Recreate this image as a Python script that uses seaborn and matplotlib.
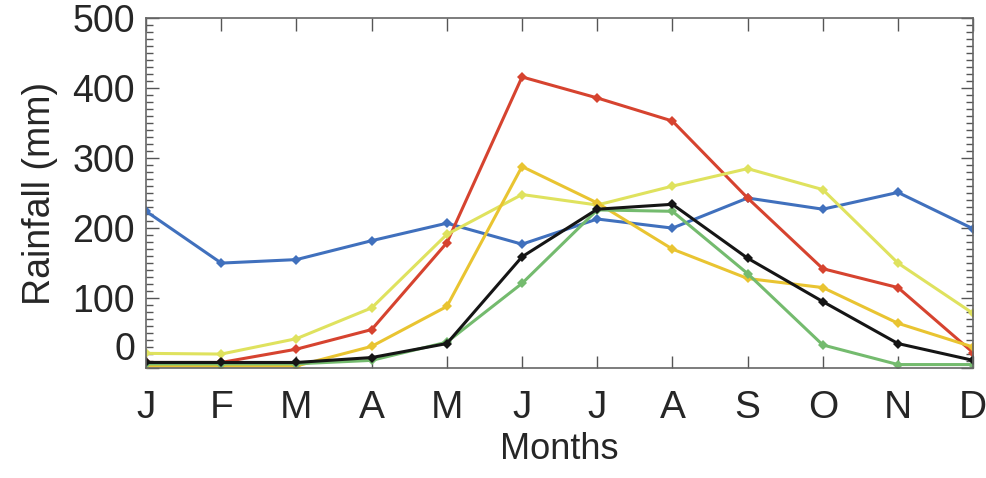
import matplotlib
matplotlib.use("Agg")
import matplotlib.pyplot as plt
from matplotlib.ticker import MultipleLocator
import pandas as pd
import seaborn as sns

months = ["J", "F", "M", "A", "M", "J", "J", "A", "S", "O", "N", "D"]
y_ticks = [0, 100, 200, 300, 400, 500]

blue = [224, 150, 155, 182, 207, 177, 213, 200, 243, 227, 251, 199]
red = [8, 8, 27, 55, 179, 416, 386, 353, 243, 142, 115, 22]
light_yellow = [21, 20, 42, 86, 191, 248, 233, 260, 285, 255, 150, 78]
gold = [3, 3, 3, 31, 88, 288, 236, 170, 128, 115, 64, 30]
green = [6, 6, 6, 11, 37, 121, 226, 224, 135, 33, 5, 5]
black = [8, 8, 8, 15, 35, 159, 227, 234, 157, 95, 35, 11]

series = {
    "blue": blue,
    "red": red,
    "light_yellow": light_yellow,
    "gold": gold,
    "green": green,
    "black": black,
}
palette = {
    "blue": "#4070bd",
    "red": "#d6432f",
    "light_yellow": "#dfe25e",
    "gold": "#e9c431",
    "green": "#74bb6e",
    "black": "#151515",
}

rows = []
for name, vals in series.items():
    for i, v in enumerate(vals):
        rows.append({"month": i, "rain": v, "series": name})
df = pd.DataFrame(rows)

sns.set_theme(style="ticks")
plt.rcParams["font.family"] = ["Liberation Sans", "DejaVu Sans"]

fig = plt.figure(figsize=(9.87, 4.78), dpi=100)
ax = fig.add_axes([0.148, 0.230, 0.838, 0.732])

sns.lineplot(data=df, x="month", y="rain", hue="series", palette=palette,
             marker="D", markersize=5, markeredgewidth=0, linewidth=2.2,
             legend=False, ax=ax)

ax.set_xlim(0, 11)
ax.set_ylim(0, 500)
ax.set_xticks(range(12))
ax.set_xticklabels(months)
ax.set_yticks(y_ticks)
ax.yaxis.set_minor_locator(MultipleLocator(10))

ax.tick_params(axis="x", which="major", direction="in", length=9, width=1,
               color="#555555", top=True, labelsize=28, pad=16)
ax.tick_params(axis="y", which="major", direction="in", length=9, width=1,
               color="#555555", right=True, labelsize=27, pad=8)
ax.tick_params(axis="y", which="minor", direction="in", length=5, width=1,
               color="#555555", right=True)
for s in ax.spines.values():
    s.set_color("#666666")
    s.set_linewidth(1.2)

ax.set_xlabel("Months", fontsize=26, labelpad=4)
ax.set_ylabel("Rainfall (mm)", fontsize=27, labelpad=10)

# the zero label sits a little higher than its tick in the original
fig.canvas.draw()
for tick in ax.yaxis.get_major_ticks():
    if tick.label1.get_text() == "0":
        tick.label1.set_verticalalignment("bottom")

fig.savefig("out.png", dpi=100)
